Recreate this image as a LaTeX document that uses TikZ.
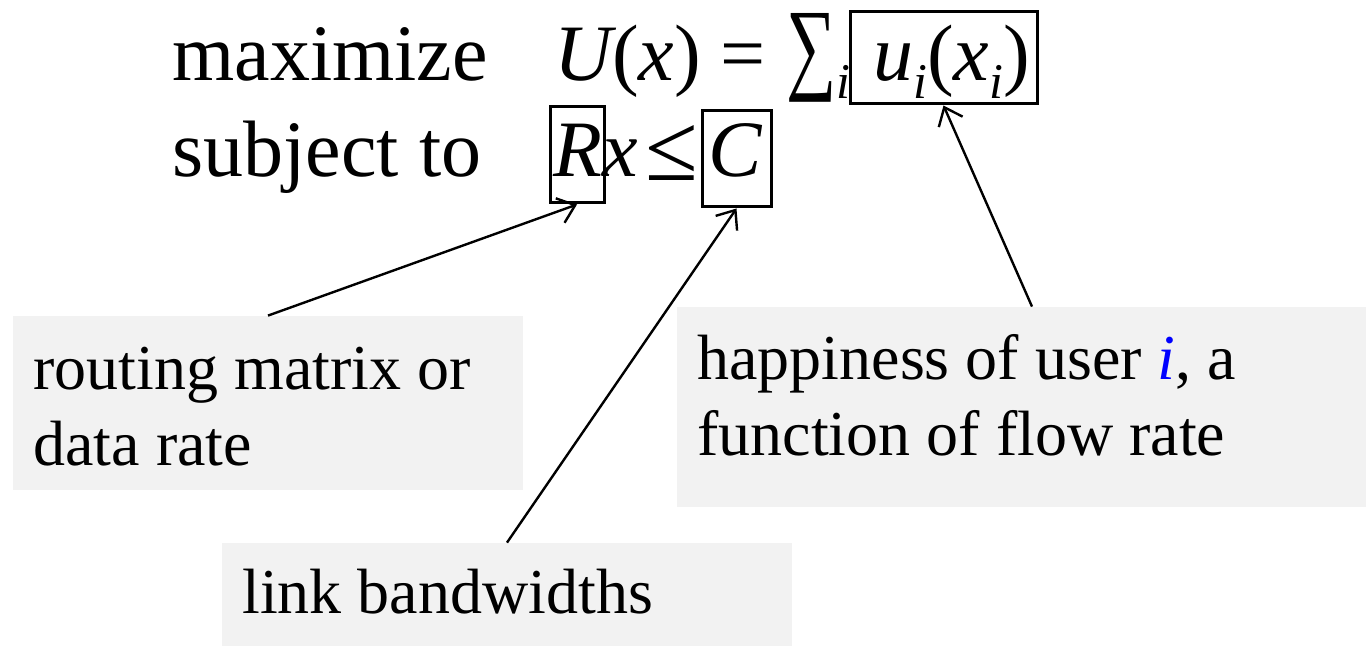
\documentclass[tikz,border=0pt]{standalone}
\usepackage{fontspec}
\setmainfont{Liberation Serif}
\usetikzlibrary{arrows.meta,fit}
\definecolor{lblgray}{HTML}{F2F2F2}
\newcommand\mysub[1]{\raisebox{-9pt}{\fontsize{25}{30}\selectfont\itshape #1}}
\newcommand\mysum{\scalebox{0.88}[1.28]{∑}}
\begin{document}
\begin{tikzpicture}[x=0.5pt,y=-0.5pt,
  big/.style={font=\fontsize{40}{48}\selectfont, inner sep=0pt, anchor=base west},
  lab/.style={font=\fontsize{32}{38}\selectfont, inner sep=0pt, anchor=base west, align=left},
  hl/.style={draw, line width=1.5pt, inner sep=0pt},
  gbox/.style={fill=lblgray, inner sep=0pt},
  arr/.style={line width=1.2pt, -{Straight Barb[length=8pt,width=13pt]}}]
\useasboundingbox (0,0) rectangle (1366,646);

% grey label boxes
\node[gbox, fit={(13,316) (523,490)}] (route) {};
\node[gbox, fit={(677,307) (1366,507)}] (hap) {};
\node[gbox, fit={(222,543) (792,646)}] (link) {};

% label texts (anchor = baseline of last line)
\node[lab] (routet) at (33,466) {routing matrix or\\data rate};
\node[lab] (hapt) at (697,456) {happiness of user {\color{blue}\itshape i}, a\\function of flow rate};
\node[lab] (linkt) at (242,613) {link bandwidths};

% optimisation problem
\node[big] (maxw) at (172,81) {maximize};
\node[big] (subj) at (172,177) {subject to};
\node[big] (f1) at (554,81) {{\itshape U}(\textit{x}) = \mysum\mysub{i}};
\node[big] (f2) at (873,81) {{\itshape u}\mysub{i}(\textit{x}\mysub{i})};
\node[big] (f3) at (553,177) {\textit{Rx}};
\node[big] (le) at (645,177) {\raisebox{-2pt}{\scalebox{1.2}{≤}}};
\node[big] (f4) at (708,177) {\textit{C}};

% highlight boxes
\node[hl, fit={(850,12) (1037,104)}] (ub) {};
\node[hl, fit={(550,107) (604,203)}] (Rb) {};
\node[hl, fit={(702,111) (771,207)}] (Cb) {};

% arrows
\draw[arr] (route.north) -- (Rb.south);
\draw[arr] (link.north) -- (Cb.south);
\draw[arr] ([xshift=5.25pt]hap.north) -- (ub.south);
\end{tikzpicture}
\end{document}
